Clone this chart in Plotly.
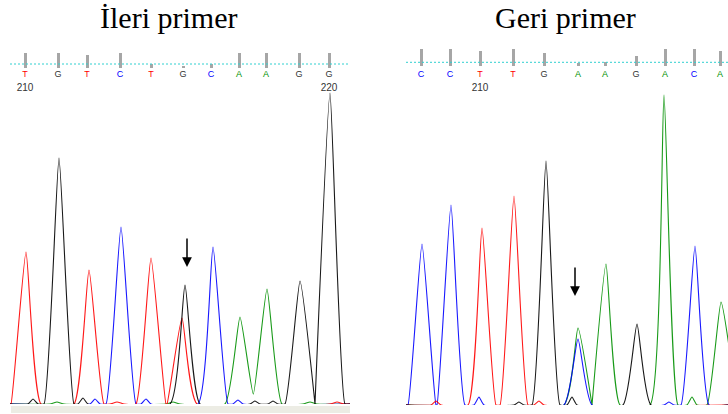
import plotly.graph_objects as go

W, H = 728, 414

# ---------------- Data ----------------
COLORS = {"A": "#009000", "C": "#0000ff", "G": "#000000", "T": "#ff0000"}

# Left panel: "İleri primer" (forward primer)
L_titles = "İleri primer"
L_peak_pos = [16, 49, 79, 111, 141, 175, 172, 203, 230, 257, 290, 320]
L_peak_h = [760, 1230, 670, 885, 730, 595, 430, 785, 435, 575, 615, 1555]
L_peak_base = ["T", "G", "T", "C", "T", "G", "T", "C", "A", "A", "G", "G"]
L_noise_pos = [23, 47, 73, 85, 107, 136, 163, 228, 245, 263, 300, 327]
L_noise_h = [25, 10, 30, 25, 10, 25, 10, 20, 15, 15, 10, 10]
L_noise_base = ["G", "A", "G", "C", "T", "C", "A", "C", "G", "G", "A", "T"]
L_call_pos = [15, 48, 77, 110, 141, 173, 201, 229, 256, 289, 319]
L_call_base = ["T", "G", "T", "C", "T", "G", "C", "A", "A", "G", "G"]
L_call_qual = [15, 15, 13, 15, 4, 2, 4, 15, 15, 15, 15]
L_numbers = [("210", 15), ("220", 319)]
L_arrow = (177, 685)

# Right panel: "Geri primer" (reverse primer)
R_titles = "Geri primer"
R_peak_pos = [16, 45, 76, 108, 140, 172, 172, 200, 231, 258, 289, 315]
R_peak_h = [805, 1000, 885, 1045, 1220, 385, 330, 705, 405, 1550, 795, 515]
R_peak_base = ["C", "C", "T", "T", "G", "A", "C", "A", "G", "A", "C", "A"]
R_noise_pos = [30, 73, 113, 133, 166, 263, 286]
R_noise_h = [20, 40, 15, 20, 40, 15, 40]
R_noise_base = ["T", "C", "G", "T", "G", "C", "A"]
R_call_pos = [15, 44, 74, 107, 138, 172, 199, 230, 259, 288, 314]
R_call_base = ["C", "C", "T", "T", "G", "A", "A", "G", "A", "C", "A"]
R_call_qual = [17, 17, 15, 17, 13, 3, 4, 10, 17, 17, 15]
R_numbers = [("210", 74)]
R_arrow = (169, 545)


def build_line(features, x0, x1):
    feats = sorted(features)
    xs, ys = [x0], [0]
    prev = None
    for c, h, w in feats:
        if prev is not None and c - w < prev[0] + prev[2]:
            pc, ph, pw = prev
            a, b = ph / pw, h / w
            xi = (ph + a * pc - h + b * c) / (a + b)
            yi = ph - a * (xi - pc)
            xs.pop(); ys.pop()
            xs.append(xi); ys.append(max(yi, 0))
        else:
            xs.append(c - w); ys.append(0)
        xs.append(c); ys.append(h)
        xs.append(c + w); ys.append(0)
        prev = (c, h, w)
    xs.append(x1); ys.append(0)
    return xs, ys


fig = go.Figure()


def add_panel(ax, pos, hts, bases, npos, nh, nb, xend, width, cpos, cbase, cqual,
              qbase, dash_y, numbers, arrow):
    xa = "x" if ax == 1 else "x%d" % ax
    ya = "y" if ax == 1 else "y%d" % ax
    ha = "y%d" % (ax + 2)
    for base in ["A", "C", "T", "G"]:
        feats = [(p, h, width) for p, h, b in zip(pos, hts, bases) if b == base]
        feats += [(p, h, 5 if h > 12 else 7) for p, h, b in zip(npos, nh, nb) if b == base]
        xs, ys = build_line(feats, 0, xend)
        fig.add_trace(go.Scatter(x=xs, y=ys, mode="lines", xaxis=xa, yaxis=ya,
                                 line=dict(color=COLORS[base], width=1.1,
                                           shape="spline", smoothing=0.45),
                                 opacity=0.9, hoverinfo="skip", showlegend=False))
    # quality bars
    fig.add_trace(go.Bar(x=cpos, y=cqual, base=qbase, width=3, xaxis=xa, yaxis=ha,
                         marker=dict(color="#a6a6a6", line=dict(width=0)),
                         hoverinfo="skip", showlegend=False))
    # dashed cyan line
    fig.add_trace(go.Scatter(x=[0, xend], y=[dash_y, dash_y], mode="lines",
                             xaxis=xa, yaxis=ha,
                             line=dict(color="#30d0d0", width=1, dash="2px,2px"),
                             hoverinfo="skip", showlegend=False))
    # base calls
    fig.add_trace(go.Scatter(x=cpos, y=[25] * len(cpos), mode="text", text=cbase,
                             xaxis=xa, yaxis=ha,
                             textfont=dict(family="Liberation Sans", size=9,
                                           color=[COLORS[b] if b != "G" else "#333333" for b in cbase]),
                             hoverinfo="skip", showlegend=False))
    fig.add_trace(go.Scatter(x=[p for _, p in numbers], y=[12] * len(numbers), mode="text",
                             text=[t for t, _ in numbers], xaxis=xa, yaxis=ha,
                             textfont=dict(family="Liberation Sans", size=10, color="#333333"),
                             hoverinfo="skip", showlegend=False))
    fig.add_annotation(x=arrow[0], y=arrow[1], xref=xa, yref=ya, ax=0, ay=-30,
                       showarrow=True, arrowhead=2, arrowsize=1.3, arrowwidth=1.5,
                       arrowcolor="#000000", text="", standoff=0)


add_panel(1, L_peak_pos, L_peak_h, L_peak_base, L_noise_pos, L_noise_h, L_noise_base,
          340, 15, L_call_pos, L_call_base, L_call_qual, 32, 36, L_numbers, L_arrow)
add_panel(2, R_peak_pos, R_peak_h, R_peak_base, R_noise_pos, R_noise_h, R_noise_base,
          322, 14, R_call_pos, R_call_base, R_call_qual, 34, 37.7, R_numbers, R_arrow)

hide = dict(visible=False, showgrid=False, zeroline=False, fixedrange=True)
fig.update_layout(
    width=W, height=H, margin=dict(l=0, r=0, t=0, b=0),
    paper_bgcolor="white", plot_bgcolor="rgba(0,0,0,0)",
    bargap=0,
    xaxis=dict(domain=[10 / W, 350 / W], range=[0, 340], anchor="y", **hide),
    xaxis2=dict(domain=[406 / W, 1], range=[0, 322], anchor="y2", **hide),
    yaxis=dict(domain=[10 / H, 330 / H], range=[0, 1600], anchor="x", **hide),
    yaxis2=dict(domain=[9 / H, 329 / H], range=[0, 1600], anchor="x2", **hide),
    yaxis3=dict(domain=[(H - 100) / H, (H - 30) / H], range=[0, 70], anchor="x", **hide),
    yaxis4=dict(domain=[(H - 100) / H, (H - 30) / H], range=[0, 70], anchor="x2", **hide),
    shapes=[dict(type="rect", xref="paper", yref="paper", x0=11 / W, x1=350 / W,
                 y0=(H - 413) / H, y1=(H - 406) / H, fillcolor="#ececE4",
                 line=dict(width=0), layer="below")],
)
for txt, cx in [(L_titles, 168), (R_titles, 565)]:
    fig.add_annotation(x=cx / W, y=(H - 18) / H, xref="paper", yref="paper", text=txt,
                       xanchor="center", yanchor="middle", showarrow=False,
                       font=dict(family="Liberation Serif", size=30, color="black"))

fig.write_html("out.html")
